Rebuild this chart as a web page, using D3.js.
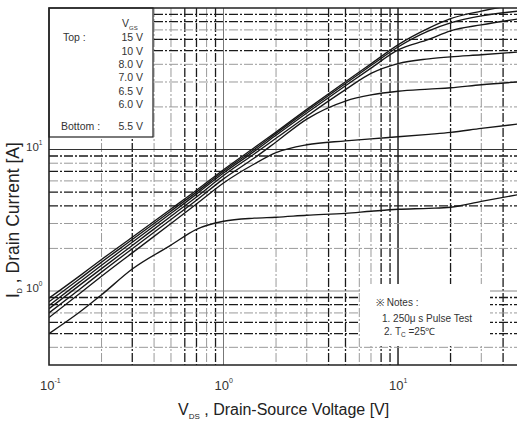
<!DOCTYPE html>
<html>
<head>
<meta charset="utf-8">
<script src="https://cdn.jsdelivr.net/npm/d3@7"></script>
<style>
html, body { margin: 0; padding: 0; background: #fff; }
svg { display: block; font-family: "Liberation Sans", Arial, sans-serif; }
</style>
</head>
<body>
<div id="chart"></div>
<script>
// V_DS sample points [V]
const vds = [0.1, 0.15, 0.2, 0.3, 0.5, 0.7, 1, 1.5, 2, 3, 5, 7, 10, 15, 20, 30, 50];

// I_D [A] for each V_GS
const id15V  = [0.89, 1.28, 1.67, 2.40, 3.80, 5.15, 7.20, 10.3, 13.3, 19.2, 30.1, 40.3, 54.9, 72.0, 84.0, 95.0, 107];
const id10V  = [0.84, 1.22, 1.60, 2.31, 3.68, 5.00, 7.02, 10.0, 13.0, 18.7, 29.3, 39.2, 53.0, 68.9, 78.4, 87.9, 95.3];
const id8V   = [0.79, 1.16, 1.52, 2.21, 3.54, 4.84, 6.82, 9.70, 12.6, 18.1, 28.2, 37.6, 50.6, 60.0, 69.0, 76.0, 84.0];
const id7V   = [0.75, 1.10, 1.44, 2.10, 3.38, 4.62, 6.55, 9.30, 12.0, 17.2, 26.5, 34.5, 40.5, 43.7, 45.2, 46.7, 49.0];
const id65V  = [0.70, 1.03, 1.36, 1.99, 3.20, 4.38, 6.20, 8.70, 11.3, 16.4, 22.0, 24.3, 25.8, 26.7, 27.3, 28.7, 30.1];
const id6V   = [0.65, 0.96, 1.27, 1.86, 3.00, 4.12, 5.80, 7.90, 9.50, 10.8, 11.5, 11.9, 12.3, 12.8, 13.2, 14.1, 15.2];
const id55V  = [0.50, 0.71, 0.94, 1.43, 2.11, 2.73, 3.11, 3.27, 3.32, 3.43, 3.54, 3.66, 3.78, 3.84, 3.91, 4.30, 4.82];

const vgsLabels = ["15 V", "10 V", "8.0 V", "7.0 V", "6.5 V", "6.0 V", "5.5 V"];
const xTickLabels = [{v: 0.1, e: "-1"}, {v: 1, e: "0"}, {v: 10, e: "1"}];
const yTickLabels = [{v: 1, e: "0"}, {v: 10, e: "1"}];
const notes = ["\u203b Notes :", "1. 250\u03bc s Pulse Test", "2. T"];

const series = [id15V, id10V, id8V, id7V, id65V, id6V, id55V];

const width = 517, height = 426;
const mLeft = 49, mTop = 8, mBottom = 365, mRight = 520;

const x = d3.scaleLog().domain([0.1, 50]).range([mLeft, mRight]);
const y = d3.scaleLog().domain([0.3, 100]).range([mBottom, mTop]);

const svg = d3.select("#chart").append("svg")
    .attr("width", width)
    .attr("height", height);

svg.append("rect").attr("width", width).attr("height", height).attr("fill", "#fff");

svg.append("clipPath").attr("id", "plot")
    .append("rect")
    .attr("x", mLeft).attr("y", mTop)
    .attr("width", mRight - mLeft).attr("height", mBottom - mTop);

// grid lines, dash-dot like the scanned datasheet
const xHeavy = [0.3, 0.6, 0.7, 0.9, 4, 5, 8, 9, 20, 40];
const yHeavy = [0.5, 0.6, 0.8, 0.9, 4, 5, 7, 9, 50, 60, 80, 90];
const has = (arr, v) => arr.some(a => Math.abs(a - v) < 1e-9 * Math.max(1, v));
const isDecade = v => Math.abs(Math.log10(v) - Math.round(Math.log10(v))) < 1e-9;

const grid = svg.append("g").attr("clip-path", "url(#plot)");

grid.selectAll(".vx")
    .data(x.ticks().filter(v => v > 0.1 + 1e-9))
    .join("line")
    .attr("x1", d => x(d)).attr("x2", d => x(d))
    .attr("y1", mTop).attr("y2", mBottom)
    .attr("stroke", d => d === 10 ? "#111" : isDecade(d) ? "#777" : has(xHeavy, d) ? "#1a1a1a" : "#9a9a9a")
    .attr("stroke-width", d => d === 10 ? 1.4 : has(xHeavy, d) ? 1.3 : 1)
    .attr("stroke-dasharray", d => isDecade(d) ? null : "9,2,2,2");

grid.selectAll(".hy")
    .data(y.ticks().filter(v => v > 0.3 + 1e-9 && v < 100 - 1e-9))
    .join("line")
    .attr("x1", mLeft).attr("x2", mRight)
    .attr("y1", d => y(d)).attr("y2", d => y(d))
    .attr("stroke", d => d === 1 ? "#888" : d === 10 ? "#333" : has(yHeavy, d) ? "#1a1a1a" : "#9a9a9a")
    .attr("stroke-width", d => has(yHeavy, d) ? 1.3 : 1)
    .attr("stroke-dasharray", d => isDecade(d) ? null : "9,2,2,2");

// notes area blanks the grid
svg.append("rect")
    .attr("x", 360).attr("y", 284)
    .attr("width", 130).attr("height", 62)
    .attr("fill", "#fff");

// curves
const line = d3.line()
    .x((d, i) => x(vds[i]))
    .y(d => y(d))
    .curve(d3.curveMonotoneX);

svg.append("g")
    .attr("clip-path", "url(#plot)")
    .selectAll("path")
    .data(series)
    .join("path")
    .attr("d", line)
    .attr("fill", "none")
    .attr("stroke", "#161616")
    .attr("stroke-width", 1.35);

// legend box
svg.append("rect")
    .attr("x", mLeft).attr("y", mTop)
    .attr("width", 104).attr("height", 129)
    .attr("fill", "#fff")
    .attr("stroke", "#222")
    .attr("stroke-width", 1.2);

const lg = svg.append("g").attr("font-size", 10.5).attr("fill", "#333");
const vgsHead = lg.append("text").attr("x", 122).attr("y", 27);
vgsHead.append("tspan").text("V");
vgsHead.append("tspan").attr("font-size", 6).attr("dy", 3).text("GS");

lg.append("text").attr("x", 63).attr("y", 41).text("Top :");
lg.append("text").attr("x", 61).attr("y", 130).text("Bottom :");
const labelY = [41, 55, 68, 81, 95, 108, 130];
lg.selectAll(".vgs")
    .data(vgsLabels)
    .join("text")
    .attr("x", 143)
    .attr("y", (d, i) => labelY[i])
    .attr("text-anchor", "end")
    .text(d => d);

// notes
const nt = svg.append("g").attr("font-size", 10).attr("fill", "#333");
nt.append("text").attr("x", 376).attr("y", 306).text(notes[0]);
nt.append("text").attr("x", 382).attr("y", 322).text(notes[1]);
const n2 = nt.append("text").attr("x", 384).attr("y", 335);
n2.append("tspan").text(notes[2]);
n2.append("tspan").attr("font-size", 6.5).attr("dy", 2).text("C");
n2.append("tspan").attr("dy", -2).text(" =25\u2103");

// plot border (right edge falls outside the picture)
svg.append("path")
    .attr("d", `M${mRight},${mTop}H${mLeft}V${mBottom}H${mRight}`)
    .attr("fill", "none")
    .attr("stroke", "#222")
    .attr("stroke-width", 1.6);

// tick labels
const xt = svg.append("g").attr("fill", "#333").attr("font-size", 13);
xTickLabels.forEach(t => {
    const tx = xt.append("text").attr("x", x(t.v) - 9).attr("y", 390);
    tx.append("tspan").text("10");
    tx.append("tspan").attr("font-size", 7).attr("dy", -7).text(t.e);
});

const yt = svg.append("g").attr("fill", "#333").attr("font-size", 11.5);
yTickLabels.forEach(t => {
    const ty = yt.append("text").attr("x", 26).attr("y", y(t.v) + 1);
    ty.append("tspan").text("10");
    ty.append("tspan").attr("font-size", 6.5).attr("dy", -6).text(t.e);
});

// axis titles
const xTitle = svg.append("text")
    .attr("x", 178).attr("y", 415)
    .attr("font-size", 16)
    .attr("fill", "#222");
xTitle.append("tspan").text("V");
xTitle.append("tspan").attr("font-size", 8).attr("dy", 4).text("DS");
xTitle.append("tspan").attr("dy", -4).text(" , Drain-Source Voltage  [V]");

const yTitle = svg.append("text")
    .attr("transform", "translate(19,298) rotate(-90)")
    .attr("font-size", 17.5)
    .attr("fill", "#222");
yTitle.append("tspan").text("I");
yTitle.append("tspan").attr("font-size", 7).attr("dy", 2.5).text("D");
yTitle.append("tspan").attr("dy", -2.5).text(" , Drain Current  [A]");
</script>
</body>
</html>
